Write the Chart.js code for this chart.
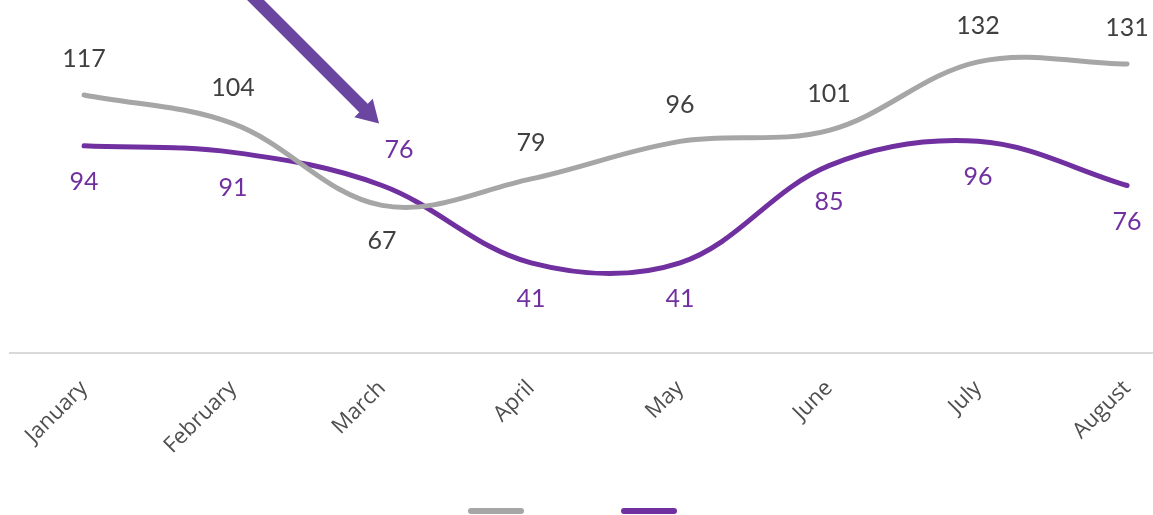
<!DOCTYPE html>
<html><head><meta charset="utf-8">
<script src="https://cdn.jsdelivr.net/npm/chart.js@4.4.1/dist/chart.umd.min.js"></script>
<style>html,body{margin:0;padding:0;background:#fff;overflow:hidden}#wrap{width:1153px;height:515px;position:relative}</style>
</head><body><div id="wrap"><canvas id="c"></canvas></div>
<script>
const months = ['January','February','March','April','May','June','July','August'];
const seriesGray = [117,104,67,79,96,101,132,131];
const seriesPurple = [94,91,76,41,41,85,96,76];
const yMin = 0, yMax = 160;
// label placement: -1 above point, +1 below point
const graySide = [-1,-1,1,-1,-1,-1,-1,-1];
const purpleSide = [1,1,-1,1,1,1,1,1];
const purpleShiftX = [0,0,17,0,0,0,0,0];

const GRAY = '#a6a6a6', PURPLE = '#7030a0';

const labelsPlugin = {
  id: 'vlabels',
  afterDatasetsDraw(chart) {
    const ctx = chart.ctx;
    ctx.save();
    ctx.font = '25px Lato, "Liberation Sans", sans-serif';
    ctx.textAlign = 'center';
    ctx.textBaseline = 'middle';
    const specs = [
      {vals: seriesGray, side: graySide, dx: [0,0,0,0,0,0,0,0], color: '#404040'},
      {vals: seriesPurple, side: purpleSide, dx: purpleShiftX, color: PURPLE}
    ];
    specs.forEach((s, di) => {
      const meta = chart.getDatasetMeta(di);
      meta.data.forEach((pt, i) => {
        ctx.fillStyle = s.color;
        ctx.fillText(String(s.vals[i]), pt.x + s.dx[i], pt.y + s.side[i] * 36);
      });
    });
    // arrow pointing to March purple label
    const p = chart.getDatasetMeta(1).data[2];
    const lx = p.x + purpleShiftX[2], ly = p.y + purpleSide[2] * 36;
    const tipX = lx - 20, tipY = ly - 26;
    const ux = Math.cos(Math.PI/4), uy = Math.sin(Math.PI/4);
    const headLen = 22, headHalf = 13, shaft = 6;
    const bx = tipX - ux*headLen, by = tipY - uy*headLen;
    const nx = -uy, ny = ux;
    const tailX = tipX - ux*200, tailY = tipY - uy*200;
    ctx.fillStyle = '#6a46a0';
    ctx.beginPath();
    ctx.moveTo(tailX + nx*shaft, tailY + ny*shaft);
    ctx.lineTo(bx + nx*shaft, by + ny*shaft);
    ctx.lineTo(bx + nx*headHalf, by + ny*headHalf);
    ctx.lineTo(tipX, tipY);
    ctx.lineTo(bx - nx*headHalf, by - ny*headHalf);
    ctx.lineTo(bx - nx*shaft, by - ny*shaft);
    ctx.lineTo(tailX - nx*shaft, tailY - ny*shaft);
    ctx.closePath();
    ctx.fill();
    ctx.restore();
  },
  afterDraw(chart) {
    const ctx = chart.ctx;
    ctx.save();
    ctx.lineCap = 'round';
    ctx.lineWidth = 6;
    const cx = chart.width/2 - 4;
    const y = chart.height - 4;
    const xs = [cx - 76.5, cx + 76.5];
    chart.data.datasets.forEach((ds, i) => {
      ctx.strokeStyle = ds.borderColor;
      ctx.beginPath();
      ctx.moveTo(xs[i] - 25, y);
      ctx.lineTo(xs[i] + 25, y);
      ctx.stroke();
    });
    ctx.restore();
  }
};

new Chart(document.getElementById('c'), {
  type: 'line',
  data: {
    datasets: [
      {label: 'Series 1', data: seriesGray.map((v,i)=>({x:i,y:v})), borderColor: GRAY, borderWidth: 5, pointRadius: 0, tension: 0.36, borderCapStyle: 'round', fill: false},
      {label: 'Series 2', data: seriesPurple.map((v,i)=>({x:i,y:v})), borderColor: PURPLE, borderWidth: 5, pointRadius: 0, tension: 0.36, borderCapStyle: 'round', fill: false}
    ]
  },
  options: {
    responsive: true, maintainAspectRatio: false, animation: false,
    layout: {padding: {left: 10, right: 0, top: 0, bottom: 34}},
    plugins: {legend: {display: false}, tooltip: {enabled: false}},
    scales: {
      x: {
        type: 'linear', min: -0.497, max: 7.174,
        afterBuildTicks: s => { s.ticks = months.map((m,i)=>({value:i})); },
        afterFit: s => { s.paddingLeft = 0; s.paddingRight = 0; },
        ticks: {
          callback: v => months[v] ?? '',
          autoSkip: false, minRotation: 45, maxRotation: 45,
          color: '#4f4f4f', font: {family: '"Open Sans", sans-serif', size: 22}, padding: 22
        },
        grid: {display: false, drawTicks: false},
        border: {display: true, color: '#d9d9d9', width: 2}
      },
      y: {display: false, min: yMin, max: yMax}
    }
  },
  plugins: [labelsPlugin]
});
</script></body></html>
